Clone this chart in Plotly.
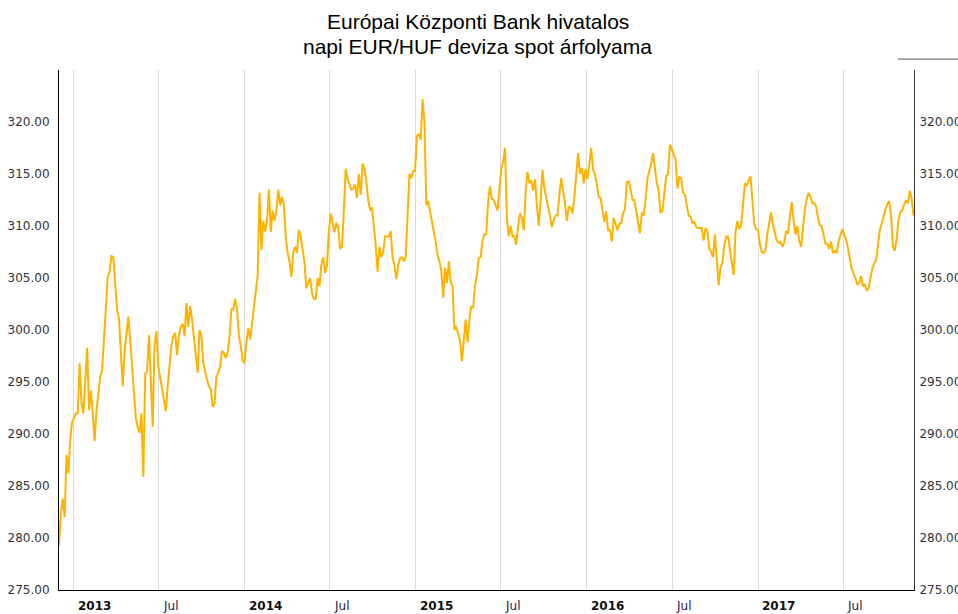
import pandas as pd
import plotly.graph_objects as go

# ---- data ----
start_date = "2012-11-30"
step = "4D"
eurhuf = [
    279.3, 282.4, 283.8, 282.0, 288.0, 286.2, 289.5, 291.2, 291.5, 292.0,
    292.0, 296.8, 293.0, 292.0, 295.0, 298.3, 292.3, 294.2, 292.0, 289.3,
    292.3, 294.0, 295.5, 296.1, 299.1, 301.0, 305.1, 305.6, 307.1, 307.0,
    304.5, 301.9, 301.1, 298.1, 294.6, 298.0, 299.7, 301.3, 299.1, 296.5,
    293.3, 291.5, 290.6, 290.1, 292.0, 285.9, 295.8, 296.0, 299.5, 294.6,
    290.7, 298.7, 299.9, 296.5, 295.5, 294.6, 293.5, 292.2, 294.6, 296.5,
    298.5, 299.4, 299.7, 297.6, 299.5, 300.3, 300.6, 299.4, 302.6, 300.3,
    302.3, 301.0, 299.4, 297.5, 295.9, 300.0, 299.4, 296.8, 295.9,
    295.2, 294.6, 294.3, 292.6, 292.9, 295.5, 295.9, 296.5, 298.0, 297.8,
    297.3, 297.8, 299.4, 302.0, 302.0, 303.0, 302.0, 299.4, 298.5, 297.1,
    296.8, 298.8, 300.2, 299.1, 300.6, 302.0, 303.5, 305.2, 313.2, 307.7,
    310.5, 309.5, 310.5, 313.5, 309.4, 311.5, 310.5, 311.5, 313.5, 312.0,
    312.8, 312.0, 309.0, 307.4, 306.6, 305.1, 307.5, 308.0, 307.4, 309.6,
    309.0, 307.5, 306.5, 304.0, 304.5, 305.0, 303.5, 303.0, 303.0, 305.0,
    304.2, 306.3, 307.0, 305.5, 306.2, 309.5, 311.2, 310.3, 309.4, 310.3,
    309.8, 307.8, 308.0, 311.5, 315.5, 314.5, 313.9,
    313.5, 313.6, 314.0, 312.7, 315.0, 313.0, 316.0, 315.5, 314.3, 312.5,
    311.5, 311.8, 310.0, 308.2, 305.6, 308.0, 307.0, 307.5, 309.0, 309.0,
    309.0, 309.5, 307.0, 306.2, 304.9, 306.2, 306.9, 307.0, 306.6, 307.0,
    310.5, 315.0, 314.6, 315.3, 315.3, 318.7, 318.8, 318.3, 322.2, 320.0,
    312.0, 312.4, 311.4, 310.5, 309.7, 308.5, 307.2, 306.6, 305.7, 303.1,
    306.0, 304.5, 306.6, 304.6, 304.2, 300.0, 300.3, 299.5, 299.0, 297.0,
    299.0, 301.0, 298.8, 301.0, 302.3, 302.1, 304.3, 305.3, 306.9, 307.0,
    308.6, 309.2, 309.2, 312.4, 313.8, 312.6, 312.5,
    312.0, 311.5, 313.5, 315.5, 316.2, 317.5, 310.8, 309.0, 310.0, 309.0,
    309.0, 308.2, 310.0, 311.2, 310.8, 309.6, 313.2, 315.2, 314.1, 314.4,
    313.4, 314.5, 312.0, 310.0, 312.5, 315.4, 313.6, 312.8, 311.9, 311.0,
    309.9, 310.6, 311.0, 311.0, 313.0, 314.6, 313.3, 312.2, 310.5, 311.8,
    311.8, 311.2, 312.8, 315.3, 317.0, 315.0, 315.6, 314.1, 315.5, 314.5,
    316.1, 317.5, 315.4, 315.0, 314.0, 312.8, 312.7, 311.4, 310.4, 311.4,
    309.6, 309.6, 308.5, 310.8, 310.3, 309.6, 310.2, 310.3, 311.2, 311.6,
    314.2, 314.3, 313.5, 312.5, 312.5, 311.3, 310.3, 309.3,
    311.3, 311.0, 312.5, 314.6, 315.3, 316.0, 317.0, 315.2, 314.1, 313.4,
    311.3, 311.4, 313.4, 314.8, 315.0, 317.8, 317.4, 316.8, 316.4, 313.6,
    314.7, 314.6, 313.2, 313.0, 312.0, 311.0, 310.9, 310.3, 310.4, 309.9,
    309.8, 309.8, 309.8, 308.6, 309.8, 309.5, 307.8, 307.5, 307.0, 309.2,
    307.0, 304.3, 306.0, 306.5, 308.1, 309.0, 309.0, 307.7, 306.5, 305.3,
    309.4, 310.5, 309.7, 310.1, 312.0, 314.1, 313.9, 314.3, 314.8, 312.5,
    310.2, 309.7, 309.6, 308.3, 307.5, 307.4, 307.7, 309.3, 310.2, 311.3,
    310.1, 309.2, 308.6, 308.4, 308.5, 308.0, 308.4,
    309.5, 309.3, 310.9, 312.3, 310.5, 309.2, 310.0, 308.6, 308.0, 309.7,
    311.6, 312.6, 313.2, 312.8, 312.2, 312.2, 311.9, 310.8, 310.1, 310.0,
    309.0, 308.3, 308.3, 307.8, 308.5, 307.4, 307.6, 307.4, 308.5, 309.2,
    309.7, 309.2, 308.7, 307.9, 306.9, 305.9, 305.4, 305.0, 304.4, 304.5,
    305.2, 304.2, 304.4, 303.8, 304.0, 305.1, 305.9, 306.4, 306.7, 308.1,
    309.6, 310.2, 311.0, 311.6, 312.1, 312.4, 311.0, 308.0, 307.6, 308.8,
    310.6, 311.4, 311.5, 312.1, 312.4, 312.2, 313.4, 312.6, 311.0,
]
dates = pd.date_range(start=start_date, periods=len(eurhuf), freq=step)

x_range = ["2012-11-30", "2017-11-29"]
y_ticks = [275, 280, 285, 290, 295, 300, 305, 310, 315, 320]
x_tick_dates = ["2013-01-01", "2013-07-01", "2014-01-01", "2014-07-01",
                "2015-01-01", "2015-07-01", "2016-01-01", "2016-07-01",
                "2017-01-01", "2017-07-01"]
x_tick_labels = ["2013", "Jul", "2014", "Jul", "2015", "Jul",
                 "2016", "Jul", "2017", "Jul"]
title_lines = ["Európai Központi Bank hivatalos",
               "napi EUR/HUF deviza spot árfolyama"]

LINE_COLOR = "#FFB300"
SANS = "DejaVu Sans, Verdana, sans-serif"
TICK_FONT = dict(family=SANS, size=12, color="#333333")

fig = go.Figure()
fig.add_trace(go.Scatter(x=dates, y=eurhuf, mode="lines",
                         line=dict(color=LINE_COLOR, width=2),
                         showlegend=False, hoverinfo="x+y"))
# invisible twin on the right axis so it is rendered
fig.add_trace(go.Scatter(x=dates, y=eurhuf, mode="lines", yaxis="y2",
                         line=dict(color="rgba(0,0,0,0)", width=0),
                         showlegend=False, hoverinfo="skip"))

annotations = []
for d, lab in zip(x_tick_dates, x_tick_labels):
    is_year = lab != "Jul"
    annotations.append(dict(
        x=d, xref="x", y=0, yref="paper",
        text=f"<b>{lab}</b>" if is_year else lab,
        showarrow=False, xanchor="left", yanchor="middle",
        xshift=2, yshift=-16,
        font=dict(family=SANS, size=12,
                  color="#111111" if is_year else "#222244"),
    ))
# two title lines
for line, ypx in zip(title_lines, [21.5, 46.5]):
    annotations.append(dict(
        text=line, xref="paper", yref="paper", x=0.49, y=(590 - ypx) / 520,
        xanchor="center", yanchor="middle", showarrow=False,
        font=dict(family="Liberation Sans, Arial, sans-serif", size=21, color="#000000"),
    ))

fig.update_layout(
    width=958, height=614,
    margin=dict(l=59, r=44, t=70, b=24, autoexpand=False),
    paper_bgcolor="white", plot_bgcolor="white",
    xaxis=dict(type="date", range=x_range, tickvals=x_tick_dates,
               showticklabels=False, ticks="", automargin=False,
               showgrid=True, gridcolor="#dadada", gridwidth=1,
               showline=True, linecolor="#000000", linewidth=1,
               zeroline=False),
    yaxis=dict(range=[275, 325], tickvals=y_ticks, tickformat=".2f",
               showgrid=False, zeroline=False, ticks="", automargin=False,
               showline=True, linecolor="#000000", linewidth=1,
               tickfont=TICK_FONT, ticklabelstandoff=6),
    yaxis2=dict(range=[275, 325], tickvals=y_ticks, tickformat=".2f",
                overlaying="y", side="right", showgrid=False, zeroline=False,
                ticks="", automargin=False,
                showline=True, linecolor="#333333", linewidth=1,
                tickfont=TICK_FONT, ticklabelstandoff=2),
    annotations=annotations,
    shapes=[dict(type="line", xref="paper", yref="paper",
                 x0=0.981, x1=1.09, y0=1.021, y1=1.021,
                 line=dict(color="#555555", width=1))],
)

fig.write_html(
    "out.html",
    config={"displayModeBar": False},
    post_script="document.body.style.margin='0px';document.body.style.overflow='hidden';",
)
